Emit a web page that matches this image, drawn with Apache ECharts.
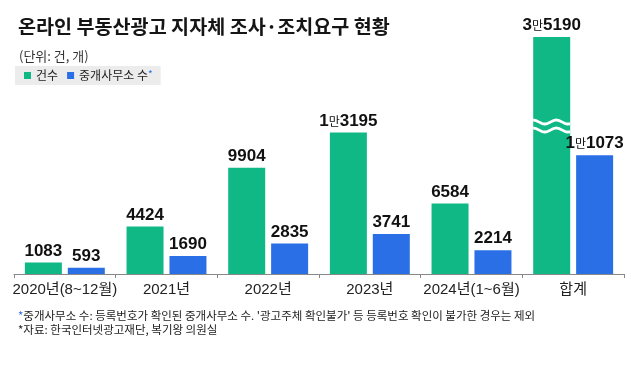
<!DOCTYPE html>
<html><head><meta charset="utf-8">
<script src="https://cdn.jsdelivr.net/npm/echarts@6/dist/echarts.min.js"></script>
<style>html,body{margin:0;padding:0;background:#fff}#c{width:640px;height:374px}</style>
</head><body><div id="c"></div>
<script>
const categories = ['2020년(8~12월)', '2021년', '2022년', '2023년', '2024년(1~6월)', '합계'];
const seriesNames = ['건수', '중개사무소 수'];
const cases = [1083, 4424, 9904, 13195, 6584, 35190];
const offices = [593, 1690, 2835, 3741, 2214, 11073];
const breakValue = 13800; // where the broken total bar shows its break mark

const GREEN = '#10b886';
const BLUE = '#2a6fe6';
const NUM_FONT = '"Liberation Sans Narrow", "Liberation Sans", "Noto Sans CJK KR", sans-serif';
const KR_FONT = '"Noto Sans CJK KR", "Liberation Sans", sans-serif';

function fmt(p) {
  const v = p.value;
  if (v >= 10000) {
    const man = Math.floor(v / 10000);
    const rest = String(v % 10000).padStart(4, '0');
    return '{n|' + man + '}{m|만}{n|' + rest + '}';
  }
  return '{n|' + v + '}';
}
const labelRich = {
  n: { fontFamily: NUM_FONT, fontWeight: 'bold', fontSize: 17, color: '#111' },
  m: { fontFamily: KR_FONT, fontWeight: 'normal', fontSize: 12, color: '#111' }
};

const chart = echarts.init(document.getElementById('c'), null, { renderer: 'canvas' });
chart.setOption({
  animation: false,
  backgroundColor: '#fff',
  title: [
    { text: '온라인 부동산광고 지자체 조사·조치요구 현황', left: 13, top: 12,
      textStyle: { fontFamily: KR_FONT, fontSize: 19.6, fontWeight: 'bold', color: '#151515' } },
    { text: '(단위: 건, 개)', left: 14, top: 45,
      textStyle: { fontFamily: KR_FONT, fontSize: 13, fontWeight: 'normal', color: '#333' } },
    { text: '{b|*}중개사무소 수: 등록번호가 확인된 중개사무소 수. \'광고주체 확인불가\' 등 등록번호 확인이 불가한 경우는 제외', left: 13, top: 305,
      textStyle: { fontFamily: KR_FONT, fontSize: 11.5, fontWeight: 'normal', color: '#222',
        rich: { b: { color: BLUE, fontSize: 11.5, fontFamily: KR_FONT } } } },
    { text: '*자료: 한국인터넷광고재단, 복기왕 의원실', left: 13, top: 319,
      textStyle: { fontFamily: KR_FONT, fontSize: 11.5, fontWeight: 'normal', color: '#222' } }
  ],
  legend: {
    left: 15, top: 66,
    data: seriesNames,
    icon: 'rect', itemWidth: 7, itemHeight: 7, itemGap: 9,
    padding: [3, 8, 3, 9],
    backgroundColor: '#ececec',
    formatter: function (name) { return name === seriesNames[1] ? name + '{s|*}' : name; },
    textStyle: { fontFamily: KR_FONT, fontSize: 12, color: '#222', lineHeight: 13,
      rich: { s: { color: BLUE, fontSize: 10, verticalAlign: 'top', padding: [0, 0, 6, 0] } } }
  },
  grid: { left: 14, right: 16, top: 37, bottom: 100, containLabel: false },
  xAxis: {
    type: 'category', data: categories,
    axisLine: { lineStyle: { color: '#888', width: 1 } },
    axisTick: { show: true, length: 4, lineStyle: { color: '#888' } },
    axisLabel: { fontFamily: NUM_FONT, fontSize: 15, color: '#222', margin: 8, interval: 0 }
  },
  yAxis: { type: 'value', min: 0, max: 22100, show: false, splitLine: { show: false } },
  series: [
    { name: seriesNames[0], type: 'bar', data: cases, barWidth: 37, barGap: '16%',
      itemStyle: { color: GREEN }, clip: true,
      label: { show: true, position: 'top', distance: 3, formatter: fmt, rich: labelRich } },
    { name: seriesNames[1], type: 'bar', data: offices, barWidth: 37, barGap: '16%',
      itemStyle: { color: BLUE },
      label: { show: true, position: 'top', distance: 3, formatter: fmt, rich: labelRich } }
  ]
});

// break mark on the total (clipped) bar
(function () {
  const last = categories.length - 1;
  const center = chart.convertToPixel({ xAxisIndex: 0 }, last);
  const yB = chart.convertToPixel({ yAxisIndex: 0 }, breakValue);
  const x0 = center - 43 / 2 - 37 / 2;
  function wave(y) {
    const pts = [];
    for (let i = 0; i <= 40; i++) {
      const t = i / 40;
      pts.push([x0 + t * 37, y - 2 * Math.cos(t * Math.PI * 3.2)]);
    }
    return { type: 'polyline', shape: { points: pts }, style: { stroke: '#fff', lineWidth: 2.8, fill: null }, z: 100 };
  }
  chart.setOption({ graphic: [wave(yB - 4), wave(yB + 4)] });
})();
</script></body></html>
